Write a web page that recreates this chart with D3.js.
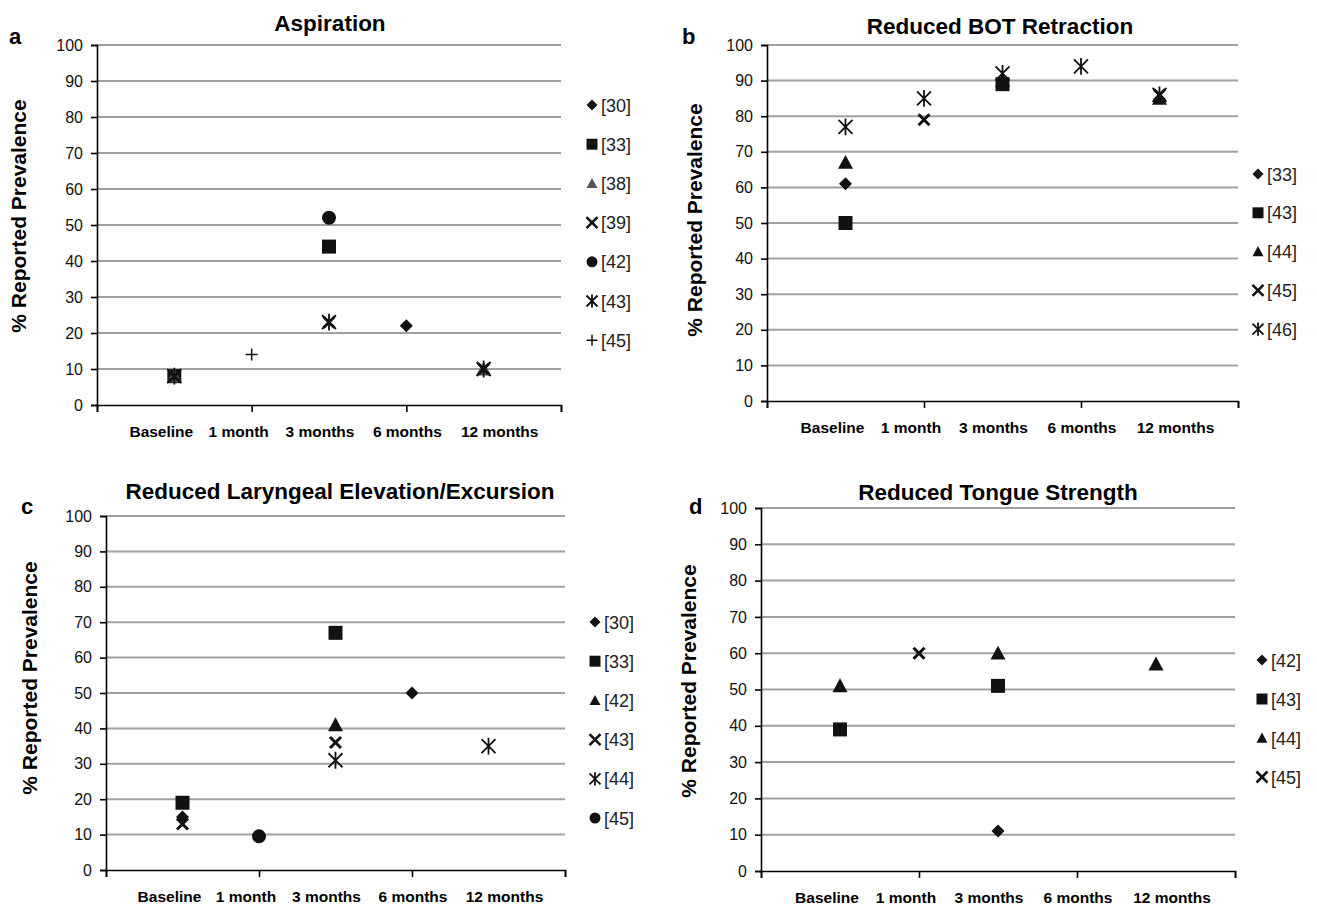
<!DOCTYPE html>
<html>
<head>
<meta charset="utf-8">
<script src="https://cdn.jsdelivr.net/npm/d3@7"></script>
<style>
  body { margin: 0; background: #fff; }
  svg { font-family: "Liberation Sans", Arial, sans-serif; }
</style>
</head>
<body>
<svg id="fig" width="1317" height="906"></svg>
<script>
// time points and y ticks
var months = ["Baseline", "1 month", "3 months", "6 months", "12 months"];
var yTicks = d3.range(0, 101, 10);

// a. Aspiration
var aspRefs = ["[30]", "[33]", "[38]", "[39]", "[42]", "[43]", "[45]"];
var aspShapes = ["diamond", "square", "triangle", "x", "circle", "star", "plus"];
var aspValues = [
  [null, null, null, 22, null],
  [8, null, 44, null, null],
  [8, null, null, null, 10],
  [8, null, 23, null, 10],
  [null, null, 52, null, null],
  [8, null, 23, null, 10],
  [null, 14, null, null, null]
];

// b. Reduced BOT Retraction
var botRefs = ["[33]", "[43]", "[44]", "[45]", "[46]"];
var botShapes = ["diamond", "square", "triangle", "x", "star"];
var botValues = [
  [61, null, null, null, null],
  [50, null, 89, null, null],
  [67, null, 90, null, 85],
  [null, 79, null, null, 86],
  [77, 85, 92, 94, 86]
];

// c. Reduced Laryngeal Elevation/Excursion
var larRefs = ["[30]", "[33]", "[42]", "[43]", "[44]", "[45]"];
var larShapes = ["diamond", "square", "triangle", "x", "star", "circle"];
var larValues = [
  [15, null, null, 50, null],
  [19, null, 67, null, null],
  [null, null, 41, null, null],
  [13, null, 36, null, null],
  [null, null, 31, null, 35],
  [null, 9.5, null, null, null]
];

// d. Reduced Tongue Strength
var tngRefs = ["[42]", "[43]", "[44]", "[45]"];
var tngShapes = ["diamond", "square", "triangle", "x"];
var tngValues = [
  [null, null, 11, null, null],
  [39, null, 51, null, null],
  [51, null, 60, null, 57],
  [null, 60, null, null, null]
];

var svg = d3.select("#fig");

// label nudges relative to the point position (the labels are a text row in the original)
var labelShift = [-13, -13, -9, 1, 16];

// marker shapes, r = half width
function markerPath(shape, r) {
  var p = d3.path();
  if (shape == "diamond") {
    p.moveTo(0, -r); p.lineTo(r, 0); p.lineTo(0, r); p.lineTo(-r, 0); p.closePath();
  } else if (shape == "square") {
    p.rect(-r, -r, 2 * r, 2 * r);
  } else if (shape == "triangle") {
    p.moveTo(0, -r); p.lineTo(r, r * 0.85); p.lineTo(-r, r * 0.85); p.closePath();
  } else if (shape == "circle") {
    p.arc(0, 0, r, 0, 2 * Math.PI);
  } else if (shape == "x") {
    p.moveTo(-r, -r); p.lineTo(r, r); p.moveTo(r, -r); p.lineTo(-r, r);
  } else if (shape == "star") {
    p.moveTo(-r, -r); p.lineTo(r, r); p.moveTo(r, -r); p.lineTo(-r, r);
    p.moveTo(0, -r * 1.2); p.lineTo(0, r * 1.2);
  } else if (shape == "plus") {
    p.moveTo(-r, 0); p.lineTo(r, 0); p.moveTo(0, -r); p.lineTo(0, r);
  }
  return p.toString();
}

var filled = { diamond: true, square: true, triangle: true, circle: true };
var strokeW = { x: 3, star: 1.8, plus: 1.5 };

function styleMarker(sel, shape, col) {
  if (filled[shape]) sel.attr("fill", col).attr("stroke", "none");
  else sel.attr("fill", "none").attr("stroke", col).attr("stroke-width", strokeW[shape]);
}

function drawPanel(o) {
  var x = d3.scaleLinear().domain([0, 6]).range([o.left, o.right]);
  var y = d3.scaleLinear().domain([0, 100]).range([o.bottom, o.top]);
  var g = svg.append("g");

  // gridlines
  g.selectAll("line.grid")
    .data(yTicks.filter(function (d) { return d > 0; }))
    .enter().append("line")
    .attr("class", "grid")
    .attr("x1", o.left).attr("x2", o.right)
    .attr("y1", function (d) { return y(d); })
    .attr("y2", function (d) { return y(d); })
    .attr("stroke", "#a0a0a0").attr("stroke-width", 2);

  // y axis
  var ya = g.append("g")
    .attr("transform", "translate(" + o.left + ",0)")
    .call(d3.axisLeft(y).tickValues(yTicks).tickSize(6).tickPadding(8));
  ya.select(".domain").attr("stroke", "#000").attr("stroke-width", 1.6);
  ya.selectAll(".tick line").attr("stroke", "#000").attr("stroke-width", 1.6);
  ya.selectAll("text").attr("font-size", 16).attr("fill", "#111")
    .attr("font-family", "Liberation Sans, Arial, sans-serif");

  // x axis
  var xa = g.append("g")
    .attr("transform", "translate(0," + o.bottom + ")")
    .call(d3.axisBottom(x).tickValues([0, 2, 4, 6]).tickSize(7).tickFormat(""));
  xa.select(".domain").attr("stroke", "#000").attr("stroke-width", 1.6);
  xa.selectAll(".tick line").attr("stroke", "#000").attr("stroke-width", 1.6);

  g.selectAll("text.mlab")
    .data(months)
    .enter().append("text")
    .attr("class", "mlab")
    .attr("x", function (d, i) { return x(i + 1) + labelShift[i]; })
    .attr("y", o.bottom + 32)
    .attr("text-anchor", "middle")
    .attr("font-size", 15.5).attr("font-weight", "bold")
    .text(function (d) { return d; });

  // points
  o.values.forEach(function (vals, si) {
    var shape = o.shapes[si];
    var col = o.colors ? o.colors[si] : "#111";
    var pts = vals.map(function (v, i) { return { i: i, v: v }; })
      .filter(function (d) { return d.v != null; });
    var m = g.selectAll("path.s" + si)
      .data(pts)
      .enter().append("path")
      .attr("class", "s" + si)
      .attr("transform", function (d) { return "translate(" + x(d.i + 1) + "," + y(d.v) + ")"; })
      .attr("d", markerPath(shape, o.sizes[shape]));
    styleMarker(m, shape, col);
  });

  // legend
  var lg = g.selectAll("g.leg")
    .data(o.refs)
    .enter().append("g")
    .attr("class", "leg")
    .attr("transform", function (d, i) { return "translate(" + o.legX + "," + (o.legY + i * o.legStep) + ")"; });
  lg.append("path")
    .attr("d", function (d, i) { return markerPath(o.shapes[i], 5.5); })
    .each(function (d, i) {
      var s = o.shapes[i];
      var col = o.colors ? o.colors[i] : "#111";
      styleMarker(d3.select(this), s, col);
      if (s == "x") d3.select(this).attr("stroke-width", 2.6);
      if (s == "star") d3.select(this).attr("stroke-width", 1.8);
    });
  lg.append("text")
    .attr("x", 9).attr("y", 6.5)
    .attr("font-size", 18).attr("fill", "#222")
    .text(function (d) { return d; });

  // titles
  g.append("text")
    .attr("x", o.titleX).attr("y", o.titleY)
    .attr("text-anchor", "middle")
    .attr("font-size", 22.5).attr("font-weight", "bold")
    .text(o.title);
  g.append("text")
    .attr("x", o.letterX).attr("y", o.letterY)
    .attr("font-size", 22).attr("font-weight", "bold")
    .text(o.letter);
  g.append("text")
    .attr("transform", "translate(" + o.yTitleX + "," + o.yTitleY + ") rotate(-90)")
    .attr("text-anchor", "middle")
    .attr("font-size", 21).attr("font-weight", "bold")
    .text("% Reported Prevalence");
}

var bigSizes = { diamond: 6.5, square: 7, triangle: 7.5, circle: 7, x: 5.5, star: 7, plus: 6 };

drawPanel({
  letter: "a", title: "Aspiration",
  refs: aspRefs, shapes: aspShapes, values: aspValues,
  colors: ["#111", "#111", "#555", "#111", "#111", "#111", "#111"],
  sizes: bigSizes,
  left: 97, right: 561, top: 45, bottom: 405,
  titleX: 330, titleY: 31, letterX: 9, letterY: 44, yTitleX: 26, yTitleY: 216,
  legX: 592, legY: 105, legStep: 39.2
});

drawPanel({
  letter: "b", title: "Reduced BOT Retraction",
  refs: botRefs, shapes: botShapes, values: botValues,
  sizes: bigSizes,
  left: 767, right: 1238, top: 45, bottom: 401,
  titleX: 1000, titleY: 34, letterX: 682, letterY: 44, yTitleX: 702, yTitleY: 220,
  legX: 1258, legY: 174, legStep: 38.8
});

drawPanel({
  letter: "c", title: "Reduced Laryngeal Elevation/Excursion",
  refs: larRefs, shapes: larShapes, values: larValues,
  sizes: bigSizes,
  left: 106, right: 565, top: 516, bottom: 870,
  titleX: 340, titleY: 499, letterX: 21, letterY: 514, yTitleX: 37, yTitleY: 678,
  legX: 595, legY: 622, legStep: 39.2
});

drawPanel({
  letter: "d", title: "Reduced Tongue Strength",
  refs: tngRefs, shapes: tngShapes, values: tngValues,
  sizes: bigSizes,
  left: 761, right: 1235, top: 508, bottom: 871,
  titleX: 998, titleY: 500, letterX: 689, letterY: 514, yTitleX: 696, yTitleY: 681,
  legX: 1262, legY: 660, legStep: 39
});
</script>
</body>
</html>
